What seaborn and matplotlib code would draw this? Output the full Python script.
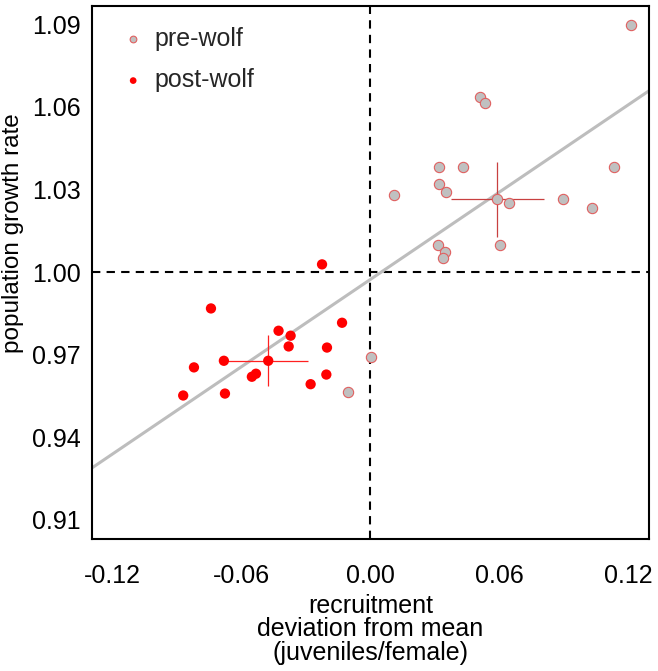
import numpy as np
import pandas as pd
import seaborn as sns
import matplotlib
matplotlib.use("Agg")
import matplotlib.pyplot as plt

# values
pre_x = [0.1211, 0.0510, 0.0531, 0.0321, 0.0432, 0.1134, 0.0321, 0.0350, 0.0110, 0.0590,
         0.0646, 0.0894, 0.1029, 0.0315, 0.0346, 0.0336, 0.0601, 0.0002, -0.0102]
pre_y = [1.0898, 1.0635, 1.0612, 1.0381, 1.0381, 1.0380, 1.0320, 1.0290, 1.0278, 1.0265,
         1.0249, 1.0267, 1.0233, 1.0097, 1.0073, 1.0051, 1.0097, 0.9690, 0.9564]
post_x = [-0.0224, -0.0740, -0.0131, -0.0426, -0.0370, -0.0379, -0.0201, -0.0680, -0.0474,
          -0.0819, -0.0531, -0.0550, -0.0204, -0.0277, -0.0869, -0.0675]
post_y = [1.0028, 0.9868, 0.9816, 0.9787, 0.9769, 0.9730, 0.9726, 0.9678, 0.9678,
          0.9654, 0.9631, 0.9620, 0.9628, 0.9593, 0.9552, 0.9559]

# group means with their spread (crosses)
mean_x = [0.0590, -0.0474]
mean_y = [1.0265, 0.9678]
err_x = [0.0215, 0.0186]
err_y = [0.0136, 0.0092]

fit_intercept = 0.9973
fit_slope = 0.529

x_ticks = [-0.12, -0.06, 0.00, 0.06, 0.12]
x_tick_labels = ["-0.12", "-0.06", "0.00", "0.06", "0.12"]
y_ticks = [0.91, 0.94, 0.97, 1.00, 1.03, 1.06, 1.09]
y_tick_labels = ["0.91", "0.94", "0.97", "1.00", "1.03", "1.06", "1.09"]

df = pd.DataFrame({
    "x": pre_x + post_x,
    "y": pre_y + post_y,
    "period": ["pre-wolf"] * len(pre_x) + ["post-wolf"] * len(post_x),
})

sns.set_style("white")
plt.rcParams["font.family"] = ["Liberation Sans", "DejaVu Sans"]

fig = plt.figure(figsize=(6.58, 6.71), dpi=100)
ax = fig.add_axes([0.1394, 0.1963, 0.8469, 0.7948])

ax.axhline(1.0, color="black", lw=1.5, ls=(0, (4, 3)), zorder=1)
ax.axvline(0.0, color="black", lw=1.5, ls=(0, (4, 3)), zorder=1)
ax.axline((0, fit_intercept), slope=fit_slope, color="#bdbdbd", lw=2.2, zorder=2)

pre = df[df.period == "pre-wolf"]
post = df[df.period == "post-wolf"]
sns.scatterplot(data=pre, x="x", y="y", ax=ax, s=55, color="#c0c0c0",
                edgecolor="#e06060", linewidth=0.8, label="pre-wolf", zorder=4)
sns.scatterplot(data=post, x="x", y="y", ax=ax, s=55, color="#ff0000",
                edgecolor="none", linewidth=0, label="post-wolf", zorder=4)

ax.errorbar(mean_x[0], mean_y[0], xerr=err_x[0], yerr=err_y[0], fmt="none",
            ecolor="#c84040", elinewidth=0.9, capsize=0, zorder=3)
ax.errorbar(mean_x[1], mean_y[1], xerr=err_x[1], yerr=err_y[1], fmt="none",
            ecolor="#ff2020", elinewidth=0.9, capsize=0, zorder=3)

ax.set_xlim(-0.1294, 0.1295)
ax.set_ylim(0.903, 1.0966)
ax.set_xticks(x_ticks)
ax.set_xticklabels(x_tick_labels)
ax.set_yticks(y_ticks)
ax.set_yticklabels(y_tick_labels)
ax.tick_params(direction="in", length=10, width=1.5, color="black",
               labelsize=18, labelcolor="black")
ax.tick_params(axis="x", pad=18)
ax.tick_params(axis="y", pad=8)
for sp in ax.spines.values():
    sp.set_color("black")
    sp.set_linewidth(1.5)

ax.set_xlabel("recruitment\ndeviation from mean\n(juveniles/female)",
              fontsize=18, linespacing=0.98, labelpad=4, color="black")
ax.set_ylabel("population growth rate", fontsize=17.5, color="black")
ax.yaxis.set_label_coords(-0.121, 0.575)

ax.legend(loc="upper left", bbox_to_anchor=(0.034, 0.980), borderaxespad=0,
          frameon=False, fontsize=18, markerscale=0.65, handlelength=1.0,
          handletextpad=0.35, labelspacing=0.7)

fig.savefig("out.png", dpi=100)
